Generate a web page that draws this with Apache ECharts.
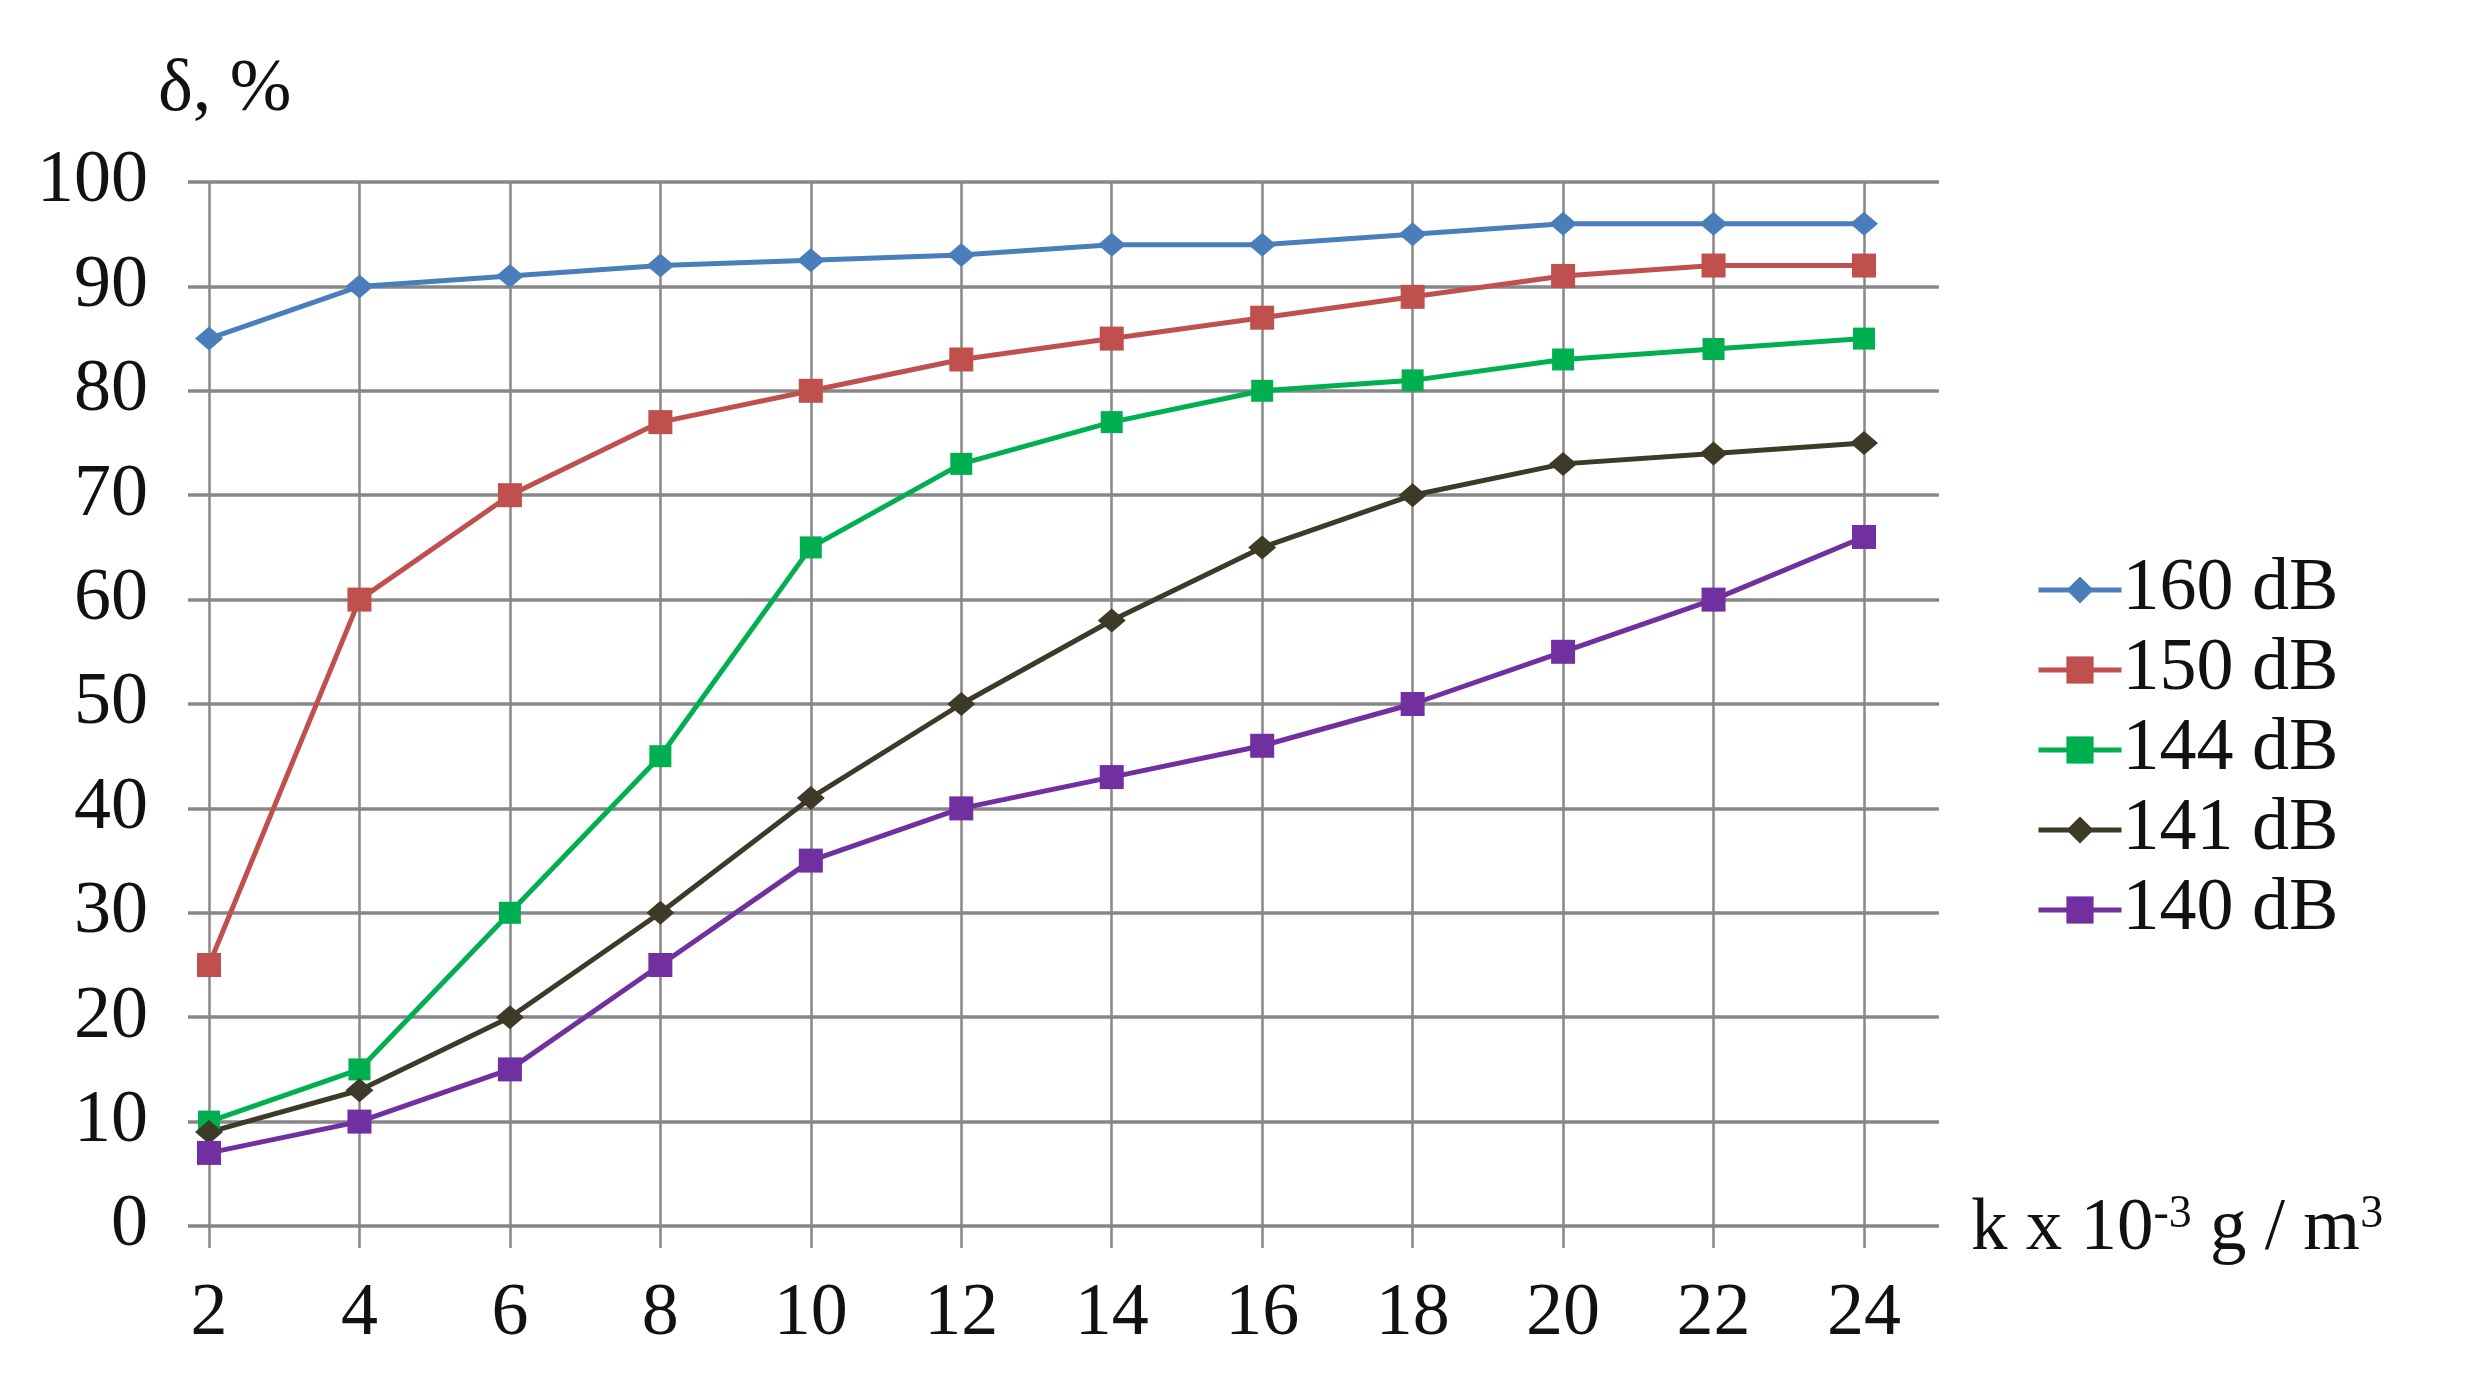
<!DOCTYPE html>
<html>
<head>
<meta charset="utf-8">
<script src="https://cdn.jsdelivr.net/npm/echarts@6/dist/echarts.min.js"></script>
<style>
  html, body { margin: 0; padding: 0; background: #fff; }
  #chart { width: 2492px; height: 1384px; }
</style>
</head>
<body>
<div id="chart"></div>
<script>
// k x 10^-3 g/m3
const categories = ['2', '4', '6', '8', '10', '12', '14', '16', '18', '20', '22', '24']
const yTicks = [0, 100, 10]

const s160 = [85, 90, 91, 92, 92.5, 93, 94, 94, 95, 96, 96, 96]
const s150 = [25, 60, 70, 77, 80, 83, 85, 87, 89, 91, 92, 92]
const s144 = [10, 15, 30, 45, 65, 73, 77, 80, 81, 83, 84, 85]
const s141 = [9, 13, 20, 30, 41, 50, 58, 65, 70, 73, 74, 75]
const s140 = [7, 10, 15, 25, 35, 40, 43, 46, 50, 55, 60, 66]

const font = 'Liberation Serif'
const gridGray = '#878787'

function line(name, data, color, symbol, size) {
  return {
    name: name,
    type: 'line',
    xAxisIndex: 1,
    yAxisIndex: 1,
    data: data,
    symbol: symbol,
    symbolSize: size,
    showSymbol: true,
    lineStyle: { color: color, width: 5 },
    itemStyle: { color: color },
    emphasis: { disabled: true }
  }
}

let option = {
  backgroundColor: '#fff',
  animation: false,
  textStyle: { fontFamily: font },
  grid: [
    // horizontal grid lines span a bit wider than the data
    { left: 188, right: 553, top: 182, bottom: 158 },
    { left: 209, right: 628, top: 182, bottom: 158 }
  ],
  legend: {
    orient: 'vertical',
    left: 2031,
    top: 545,
    itemWidth: 83,
    itemHeight: 34,
    itemGap: 0,
    lineStyle: { width: 5 },
    textStyle: { fontFamily: font, fontSize: 74, color: '#111', lineHeight: 80, padding: [0, 0, 0, -4] },
    data: ['160 dB', '150 dB', '144 dB', '141 dB', '140 dB']
  },
  xAxis: [
    {
      gridIndex: 0,
      type: 'value',
      min: 0,
      max: 1,
      axisLine: { show: false },
      axisTick: { show: false },
      axisLabel: { show: false },
      splitLine: { show: false },
      name: '{b|k x 10}{s|-3}{b| g / m}{s|3}',
      nameLocation: 'end',
      nameGap: 32,
      nameTextStyle: {
        rich: {
          b: { fontFamily: font, fontSize: 73, color: '#111', lineHeight: 80, verticalAlign: 'bottom' },
          s: { fontFamily: font, fontSize: 46, color: '#111', lineHeight: 80, verticalAlign: 'top', padding: [6, 0, 0, 0] }
        }
      }
    },
    {
      gridIndex: 1,
      type: 'category',
      data: categories,
      boundaryGap: false,
      axisLine: { show: false },
      axisTick: { show: true, length: 22, lineStyle: { color: gridGray, width: 2.5 } },
      axisLabel: { fontFamily: font, fontSize: 74, color: '#111', margin: 52 },
      splitLine: { show: true, lineStyle: { color: gridGray, width: 2.5 } }
    }
  ],
  yAxis: [
    {
      gridIndex: 0,
      type: 'value',
      min: yTicks[0],
      max: yTicks[1],
      interval: yTicks[2],
      axisLine: { show: false },
      axisTick: { show: false },
      axisLabel: { fontFamily: font, fontSize: 74, color: '#111', margin: 40 },
      splitLine: { show: true, lineStyle: { color: gridGray, width: 3.5 } },
      name: 'δ, %',
      nameLocation: 'end',
      nameGap: 54,
      nameTextStyle: { fontFamily: font, fontSize: 74, color: '#111', align: 'left', padding: [0, 0, 0, -30] }
    },
    {
      gridIndex: 1,
      type: 'value',
      min: yTicks[0],
      max: yTicks[1],
      show: false
    }
  ],
  series: [
    line('160 dB', s160, '#4a7ebb', 'diamond', [28, 24]),
    line('150 dB', s150, '#c0504d', 'rect', 24),
    line('144 dB', s144, '#00b050', 'rect', 22),
    line('141 dB', s141, '#3d3a28', 'diamond', [28, 24]),
    line('140 dB', s140, '#7030a0', 'rect', 24)
  ]
}

let myChart = echarts.init(document.getElementById('chart'))
myChart.setOption(option)
</script>
</body>
</html>
